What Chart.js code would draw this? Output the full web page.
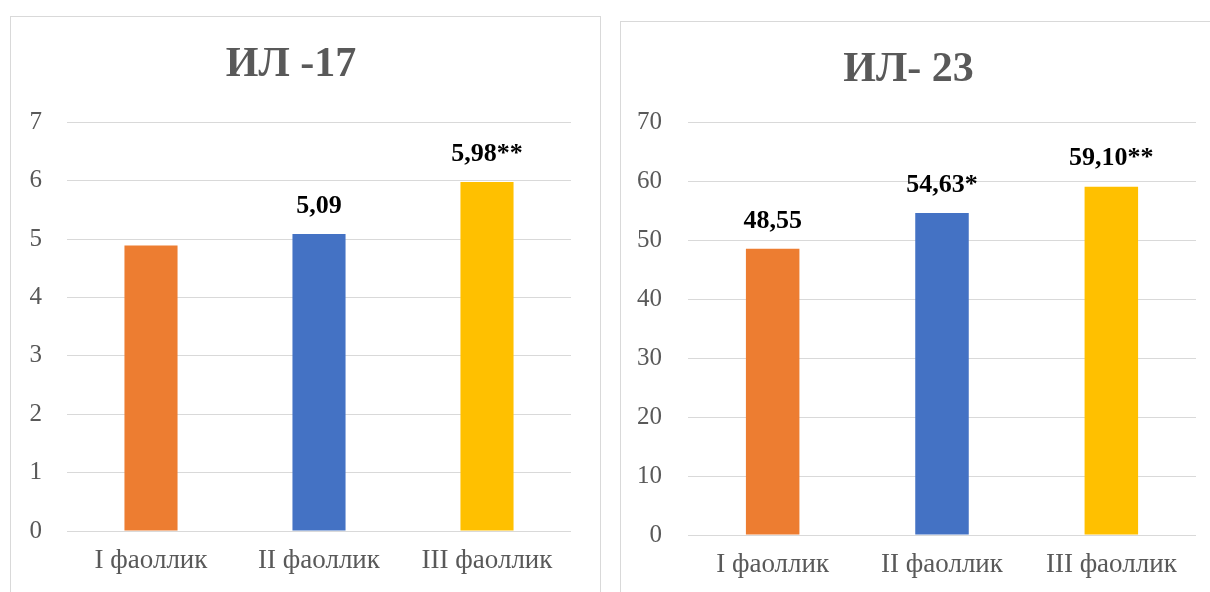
<!DOCTYPE html>
<html>
<head>
<meta charset="utf-8">
<script src="https://cdn.jsdelivr.net/npm/chart.js@4"></script>
<style>
  body { margin: 0; background: #fff; width: 1210px; height: 592px; overflow: hidden; position: relative; }
  .panel { position: absolute; border: 1px solid #d9d9d9; background: #fff; }
  #p1 { left: 10px; top: 16px; width: 589px; height: 600px; }
  #p2 { left: 620px; top: 21px; width: 600px; height: 600px; }
  canvas { display: block; }
</style>
</head>
<body>
<div class="panel" id="p1"><canvas id="c1" width="589" height="575"></canvas></div>
<div class="panel" id="p2"><canvas id="c2" width="589" height="570"></canvas></div>
<script>
// shared categories
const categories = ['I фаоллик', 'II фаоллик', 'III фаоллик'];
const barColors = ['#ED7D31', '#4472C4', '#FFC000'];

// ИЛ -17
const il17Values = [4.89, 5.09, 5.98];
const il17Labels = ['', '5,09', '5,98**'];

// ИЛ- 23
const il23Values = [48.55, 54.63, 59.10];
const il23Labels = ['48,55', '54,63*', '59,10**'];

const serif = "'Liberation Serif', 'DejaVu Serif', serif";
const grey = '#595959';

// draws the value text above each bar
const barLabels = {
    id: 'barLabels',
    afterDatasetsDraw: function (chart, args, opts) {
        const ctx = chart.ctx;
        const meta = chart.getDatasetMeta(0);
        ctx.save();
        ctx.font = 'bold 26px ' + serif;
        ctx.fillStyle = '#000';
        ctx.textAlign = 'center';
        ctx.textBaseline = 'middle';
        meta.data.forEach(function (bar, i) {
            const txt = opts.labels[i];
            if (txt) ctx.fillText(txt, bar.x, bar.y - 28);
        });
        ctx.restore();
    }
};

function makeChart(id, cfg) {
    return new Chart(document.getElementById(id), {
        type: 'bar',
        data: {
            labels: categories,
            datasets: [{
                data: cfg.values,
                backgroundColor: barColors,
                categoryPercentage: 1,
                barPercentage: 0.316
            }]
        },
        options: {
            responsive: false,
            animation: false,
            layout: { padding: { left: 0, right: cfg.padRight, top: 0, bottom: 0 } },
            plugins: {
                legend: { display: false },
                tooltip: { enabled: false },
                title: {
                    display: true,
                    text: cfg.title,
                    color: grey,
                    font: { family: serif, size: 42, weight: 'bold', lineHeight: 1.2 },
                    padding: { top: cfg.titleTop, bottom: cfg.titleBottom }
                },
                barLabels: { labels: cfg.labels }
            },
            scales: {
                x: {
                    grid: { display: false, drawTicks: false },
                    border: { display: false },
                    ticks: {
                        color: grey,
                        font: { family: serif, size: 27, lineHeight: 1.2 },
                        padding: 14,
                        maxRotation: 0
                    },
                    afterFit: function (scale) { scale.height = cfg.axisHeight; }
                },
                y: {
                    min: 0,
                    max: cfg.max,
                    border: { display: false },
                    grid: { color: '#d9d9d9', lineWidth: 1, drawTicks: false },
                    ticks: {
                        stepSize: cfg.step,
                        color: grey,
                        font: { family: serif, size: 25 },
                        padding: cfg.yPad
                    },
                    afterFit: function (scale) { scale.width = cfg.axisWidth; }
                }
            }
        },
        plugins: [barLabels]
    });
}

makeChart('c1', {
    title: 'ИЛ -17', values: il17Values, labels: il17Labels,
    max: 7, step: 1, axisWidth: 56, yPad: 25, padRight: 29,
    titleTop: 23, titleBottom: 32, axisHeight: 61
});

makeChart('c2', {
    title: 'ИЛ- 23', values: il23Values, labels: il23Labels,
    max: 70, step: 10, axisWidth: 67, yPad: 26, padRight: 14,
    titleTop: 23, titleBottom: 27, axisHeight: 57
});
</script>
</body>
</html>
